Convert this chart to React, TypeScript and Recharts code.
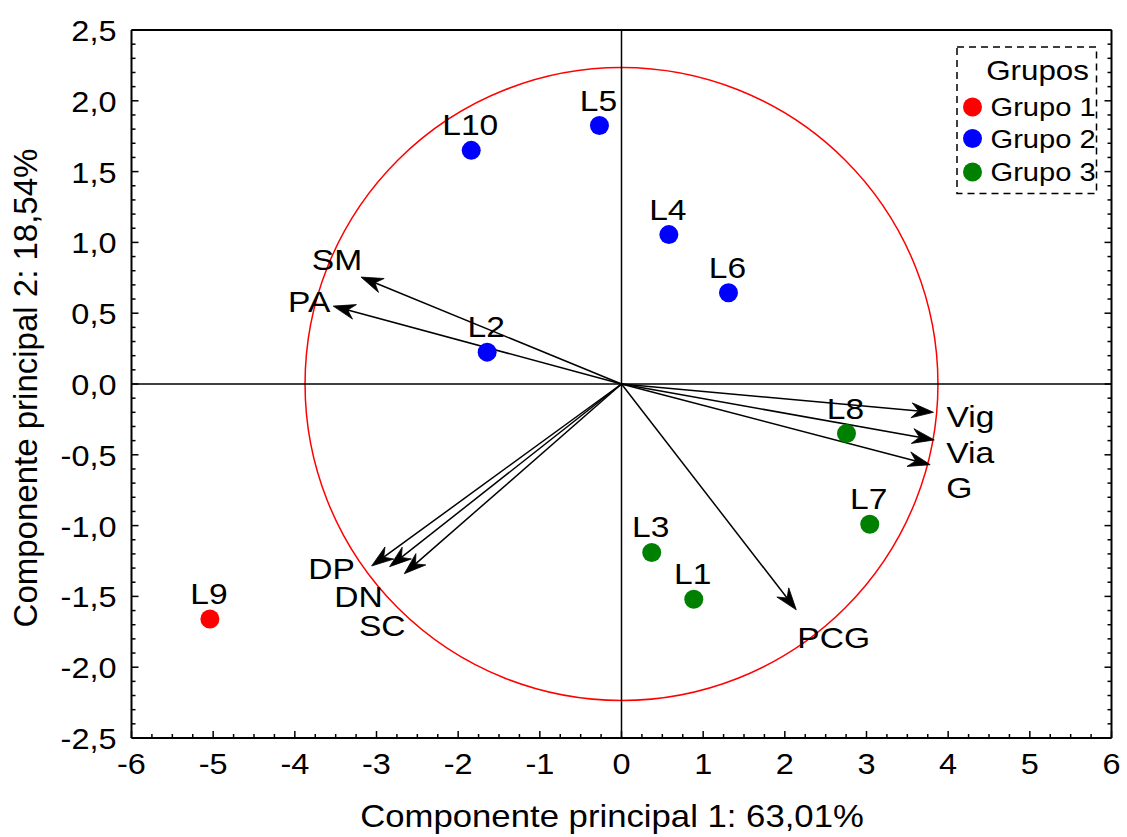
import React from 'react';
import { ScatterChart, Scatter, XAxis, YAxis, ReferenceLine, Legend, Label } from 'recharts';

if (typeof document !== 'undefined') {
  document.body.style.margin = '0';
  document.body.style.overflow = 'hidden';
}

// ---------- data ----------
const grupo1 = [{ name: 'L9', x: -5.04, y: -1.66 }];
const grupo2 = [
  { name: 'L10', x: -1.84, y: 1.65 },
  { name: 'L5', x: -0.27, y: 1.825 },
  { name: 'L4', x: 0.58, y: 1.055 },
  { name: 'L6', x: 1.31, y: 0.645 },
  { name: 'L2', x: -1.645, y: 0.225 },
];
const grupo3 = [
  { name: 'L8', x: 2.755, y: -0.35 },
  { name: 'L7', x: 3.04, y: -0.99 },
  { name: 'L3', x: 0.37, y: -1.19 },
  { name: 'L1', x: 0.885, y: -1.52 },
];
const vectorNames = ['SM', 'PA', 'DP', 'DN', 'SC', 'Vig', 'Via', 'G', 'PCG'];
const vectorX = [-3.19, -3.53, -3.06, -2.84, -2.66, 3.82, 3.83, 3.78, 2.14];
const vectorY = [0.755, 0.55, -1.285, -1.29, -1.34, -0.2, -0.395, -0.57, -1.595];
const circleRadius = 3.875;
const xMajorTicks = [-6, -5, -4, -3, -2, -1, 0, 1, 2, 3, 4, 5, 6];
const yMajorTicks = [-2.5, -2, -1.5, -1, -0.5, 0, 0.5, 1, 1.5, 2, 2.5];
const xTitle = 'Componente principal 1: 63,01%';
const yTitle = 'Componente principal 2: 18,54%';
const legendTitle = 'Grupos';

// ---------- helpers ----------
const subdivide = (majors: number[], n: number) => {
  const out: number[] = [];
  for (let i = 0; i < majors.length - 1; i++) {
    const a = majors[i];
    const b = majors[i + 1];
    for (let k = 0; k < n; k++) out.push(+(a + ((b - a) * k) / n).toFixed(4));
  }
  out.push(majors[majors.length - 1]);
  return out;
};
const xTicks = subdivide(xMajorTicks, 4);
const yTicks = subdivide(yMajorTicks, 5);
const isMajor = (v: number, majors: number[]) => majors.some((m) => Math.abs(m - v) < 1e-6);
const fmtY = (v: number) => v.toFixed(1).replace('.', ',');

const FONT = 'Liberation Sans, Arial, Helvetica, sans-serif';
const SX = 1.12;
const MAJOR = 7;
const MINOR = 4;

const ST = ({ x, y, anchor = 'middle', size, rotate = 0, sx = SX, children }: any) => (
  <text
    x={x}
    y={y}
    textAnchor={anchor}
    fontSize={size}
    fontFamily={FONT}
    fill="#000"
    transform={`translate(${x} ${y}) rotate(${rotate}) scale(${sx} 1) translate(${-x} ${-y})`}
  >
    {children}
  </text>
);

const XTickBottom = (props: any) => {
  const { x, y, payload } = props;
  const major = isMajor(payload.value, xMajorTicks);
  return (
    <g>
      <line x1={x} x2={x} y1={y} y2={y - (major ? MAJOR : MINOR)} stroke="#000" strokeWidth={1.5} />
      {major && (
        <ST x={x} y={y + 36} size={29}>
          {String(payload.value)}
        </ST>
      )}
    </g>
  );
};
const XTickTop = (props: any) => {
  const { x, y, payload } = props;
  const major = isMajor(payload.value, xMajorTicks);
  return <line x1={x} x2={x} y1={y} y2={y + (major ? MAJOR : MINOR)} stroke="#000" strokeWidth={1.5} />;
};
const YTickLeft = (props: any) => {
  const { x, y, payload } = props;
  const major = isMajor(payload.value, yMajorTicks);
  return (
    <g>
      <line x1={x} x2={x + (major ? MAJOR : MINOR)} y1={y} y2={y} stroke="#000" strokeWidth={1.5} />
      {major && (
        <ST x={x - 15} y={y + 11} size={29} anchor="end">
          {fmtY(payload.value)}
        </ST>
      )}
    </g>
  );
};
const YTickRight = (props: any) => {
  const { x, y, payload } = props;
  const major = isMajor(payload.value, yMajorTicks);
  return <line x1={x} x2={x - (major ? MAJOR : MINOR)} y1={y} y2={y} stroke="#000" strokeWidth={1.5} />;
};

const CircleShape = (props: any) => {
  const { x1, y1, x2 } = props;
  const r = Math.abs(x2 - x1) / 2;
  return <circle cx={(x1 + x2) / 2} cy={y1} r={r} fill="none" stroke="#ff0000" strokeWidth={1.5} />;
};

const vectorLabelPos: Record<string, { dx: number; dy: number; anchor: string }> = {
  SM: { dx: -24, dy: -7, anchor: 'middle' },
  PA: { dx: -24, dy: 6, anchor: 'middle' },
  DP: { dx: -40, dy: 13, anchor: 'middle' },
  DN: { dx: -31, dy: 40, anchor: 'middle' },
  SC: { dx: -22, dy: 62, anchor: 'middle' },
  Vig: { dx: 13, dy: 15, anchor: 'start' },
  Via: { dx: 12, dy: 23, anchor: 'start' },
  G: { dx: 16, dy: 33, anchor: 'start' },
  PCG: { dx: 1, dy: 38, anchor: 'start' },
};

const makeArrow = (name: string) => (props: any) => {
  const { x1, y1, x2, y2 } = props;
  const ang = Math.atan2(y2 - y1, x2 - x1);
  const c = Math.cos(ang);
  const s = Math.sin(ang);
  const L = 22;
  const W = 7.5;
  const N = 15;
  const bx = x2 - L * c;
  const by = y2 - L * s;
  const nx = x2 - N * c;
  const ny = y2 - N * s;
  const lp = vectorLabelPos[name];
  return (
    <g>
      <line x1={x1} y1={y1} x2={nx} y2={ny} stroke="#000" strokeWidth={1.5} />
      <path
        d={`M${x2},${y2} L${bx - W * s},${by + W * c} L${nx},${ny} L${bx + W * s},${by - W * c} Z`}
        fill="#000"
        stroke="#000"
        strokeWidth={0.8}
        strokeLinejoin="miter"
      />
      <ST x={x2 + lp.dx} y={y2 + lp.dy} size={30} anchor={lp.anchor}>
        {name}
      </ST>
    </g>
  );
};

const makeDot = (color: string) => (props: any) => {
  const { cx, cy, payload } = props;
  return (
    <g>
      <circle cx={cx} cy={cy} r={9.5} fill={color} />
      <ST x={cx - 1} y={cy - 15} size={30}>
        {payload.name}
      </ST>
    </g>
  );
};

const XTitle = () => (
  <ST x={612} y={827} size={31}>
    {xTitle}
  </ST>
);
const YTitle = () => (
  <ST x={37} y={388} size={33} rotate={-90} sx={1}>
    {yTitle}
  </ST>
);

const LegendBox = (props: any) => {
  const payload = props.payload || [];
  const rows = [61, 92.5, 126];
  return (
    <svg width={142} height={149} style={{ display: 'block' }}>
      <rect x={1} y={1} width={139.5} height={146.5} fill="#fff" stroke="#000" strokeWidth={1.5} strokeDasharray="7 5" />
      <ST x={133} y={34} size={28} anchor="end">
        {legendTitle}
      </ST>
      {payload.map((p: any, i: number) => (
        <g key={p.value}>
          <circle cx={16.5} cy={rows[i]} r={9.5} fill={p.color || (p.payload && p.payload.fill)} />
          <ST x={34.5} y={rows[i] + 9.5} size={26} anchor="start">
            {p.value}
          </ST>
        </g>
      ))}
    </svg>
  );
};

const axisLineStyle = { stroke: '#000', strokeWidth: 2 };

export default function App() {
  return (
    <div style={{ width: 1127, height: 837, background: '#fff' }}>
      <ScatterChart width={1127} height={837} margin={{ top: 20, right: 5.5, bottom: 59, left: 71.5 }}>
        <XAxis
          xAxisId="b"
          type="number"
          dataKey="x"
          domain={[-6, 6]}
          allowDataOverflow
          ticks={xTicks}
          interval={0}
          height={40}
          tick={XTickBottom}
          tickLine={false}
          tickSize={0}
          tickMargin={0}
          axisLine={axisLineStyle}
        >
          <Label content={XTitle} />
        </XAxis>
        <XAxis
          xAxisId="t"
          orientation="top"
          type="number"
          domain={[-6, 6]}
          allowDataOverflow
          ticks={xTicks}
          interval={0}
          height={10}
          tick={XTickTop}
          tickLine={false}
          tickSize={0}
          tickMargin={0}
          axisLine={axisLineStyle}
        />
        <YAxis
          yAxisId="l"
          type="number"
          dataKey="y"
          domain={[-2.5, 2.5]}
          allowDataOverflow
          ticks={yTicks}
          interval={0}
          width={60}
          tick={YTickLeft}
          tickLine={false}
          tickSize={0}
          tickMargin={0}
          axisLine={axisLineStyle}
        >
          <Label content={YTitle} />
        </YAxis>
        <YAxis
          yAxisId="r"
          orientation="right"
          type="number"
          domain={[-2.5, 2.5]}
          allowDataOverflow
          ticks={yTicks}
          interval={0}
          width={10}
          tick={YTickRight}
          tickLine={false}
          tickSize={0}
          tickMargin={0}
          axisLine={axisLineStyle}
        />
        <ReferenceLine
          xAxisId="b"
          yAxisId="l"
          segment={[
            { x: -circleRadius, y: 0 },
            { x: circleRadius, y: 0 },
          ]}
          shape={CircleShape}
        />
        <ReferenceLine xAxisId="b" yAxisId="l" x={0} stroke="#000" strokeWidth={1.5} />
        <ReferenceLine xAxisId="b" yAxisId="l" y={0} stroke="#000" strokeWidth={1.5} />
        {vectorNames.map((n, i) => (
          <ReferenceLine
            key={n}
            xAxisId="b"
            yAxisId="l"
            segment={[
              { x: 0, y: 0 },
              { x: vectorX[i], y: vectorY[i] },
            ]}
            shape={makeArrow(n)}
          />
        ))}
        <Scatter name="Grupo 1" data={grupo1} xAxisId="b" yAxisId="l" fill="#ff0000" shape={makeDot('#ff0000')} isAnimationActive={false} />
        <Scatter name="Grupo 2" data={grupo2} xAxisId="b" yAxisId="l" fill="#0000ff" shape={makeDot('#0000ff')} isAnimationActive={false} />
        <Scatter name="Grupo 3" data={grupo3} xAxisId="b" yAxisId="l" fill="#008000" shape={makeDot('#008000')} isAnimationActive={false} />
        <Legend
          layout="horizontal"
          verticalAlign="middle"
          align="center"
          content={LegendBox}
          wrapperStyle={{ left: 956, top: 46, width: 142, height: 149 }}
        />
      </ScatterChart>
    </div>
  );
}
